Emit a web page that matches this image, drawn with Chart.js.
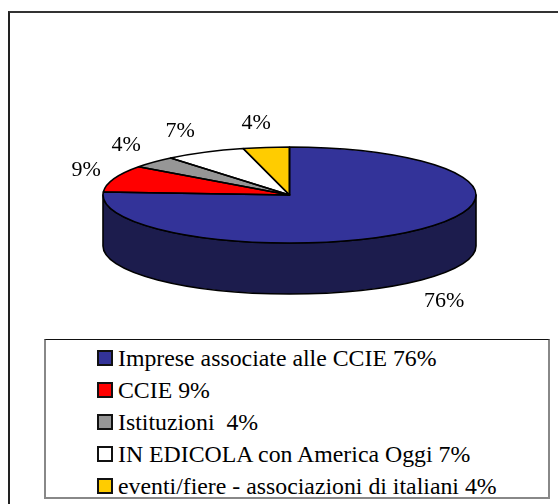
<!DOCTYPE html>
<html>
<head>
<meta charset="utf-8">
<script src="https://cdn.jsdelivr.net/npm/chart.js@4/dist/chart.umd.min.js"></script>
<style>
  html, body { margin: 0; padding: 0; background: #fff; }
  body { width: 558px; height: 504px; position: relative; overflow: hidden; }
  #frame { position: absolute; left: 8px; top: 11px; width: 600px; height: 600px;
           border-top: 2px solid #333; border-left: 2px solid #222; box-sizing: border-box; }
  #c { position: absolute; left: 0; top: 0; }
  #legend { position: absolute; left: 44px; top: 339px; width: 506px; height: 160px; box-sizing: border-box;
            border-top: 1px solid #111; border-left: 2px solid #888; border-right: 2px solid #888; border-bottom: 2px solid #888;
            font-family: "Liberation Serif", "Times New Roman", serif; font-size: 23.8px; color: #000;
            padding-top: 2px; padding-left: 51px; background: #fff; }
  .row { height: 32px; line-height: 32px; white-space: pre; display: flex; align-items: center; }
  .sw { width: 16px; height: 16px; box-sizing: border-box; border: 2px solid #111; margin-right: 5px; flex: none; }
</style>
</head>
<body>
<div id="frame"></div>
<canvas id="c" width="558" height="504"></canvas>
<div id="legend"></div>
<script>
// ---- data ----
const categories = [
  "Imprese associate alle CCIE 76%",
  "CCIE 9%",
  "Istituzioni  4%",
  "IN EDICOLA con America Oggi 7%",
  "eventi/fiere - associazioni di italiani 4%"
];
const shares = [76, 9, 4, 7, 4];
const sliceLabels = ["76%", "9%", "4%", "7%", "4%"];

// ---- style ----
const topColors  = ["#333399", "#FF0000", "#969696", "#FFFFFF", "#FFCC00"];
const sideColors = ["#1c1c4d", "#990000", "#5a5a5a", "#9a9a9a", "#997a00"];
const TILT = 0.2574;     // vertical squash of the pie top
const DEPTH = 51;        // thickness of the pie
const LABEL_GAP_X = 28, LABEL_RY = 72;
const FONT_STACK = '"Liberation Serif", "Times New Roman", serif';

const pie3d = {
  id: 'pie3d',
  beforeDatasetsDraw(chart) {
    const ctx = chart.ctx;
    const arcs = chart.getDatasetMeta(0).data;
    const cx = arcs[0].x, cy = arcs[0].y, rx = arcs[0].outerRadius, ry = rx * TILT;
    ctx.save();
    ctx.lineWidth = 1.6; ctx.strokeStyle = '#000'; ctx.lineJoin = 'round';
    arcs.forEach((arc, i) => {
      for (let k = -1; k <= 1; k++) {
        const s = Math.max(arc.startAngle + k * 2 * Math.PI, 0);
        const e = Math.min(arc.endAngle + k * 2 * Math.PI, Math.PI);
        if (e > s) {
          ctx.beginPath();
          ctx.ellipse(cx, cy, rx, ry, 0, s, e, false);
          ctx.ellipse(cx, cy + DEPTH, rx, ry, 0, e, s, true);
          ctx.closePath();
          ctx.fillStyle = sideColors[i];
          ctx.fill();
          ctx.stroke();
        }
      }
    });
    ctx.restore();
    ctx.save();
    ctx.translate(0, cy); ctx.scale(1, TILT); ctx.translate(0, -cy);
  },
  afterDatasetsDraw(chart) {
    const ctx = chart.ctx;
    ctx.restore();
    const arcs = chart.getDatasetMeta(0).data;
    const cx = arcs[0].x, cy = arcs[0].y, rx = arcs[0].outerRadius, ry = rx * TILT;
    ctx.save();
    ctx.lineWidth = 1.6; ctx.strokeStyle = '#000'; ctx.lineJoin = 'round';
    arcs.forEach(arc => {
      ctx.beginPath();
      ctx.moveTo(cx, cy);
      ctx.ellipse(cx, cy, rx, ry, 0, arc.startAngle, arc.endAngle, false);
      ctx.closePath();
      ctx.stroke();
    });
    ctx.font = '22px ' + FONT_STACK;
    ctx.fillStyle = '#000';
    ctx.textAlign = 'center';
    ctx.textBaseline = 'middle';
    arcs.forEach((arc, i) => {
      const m = (arc.startAngle + arc.endAngle) / 2;
      const sn = Math.sin(m), cs = Math.cos(m);
      const x = cx + rx * cs + LABEL_GAP_X * Math.tanh(3 * cs);
      const y = cy + LABEL_RY * sn + (sn > 0 ? DEPTH + 3 : 0);
      ctx.fillText(sliceLabels[i], x, y);
    });
    ctx.restore();
  }
};

new Chart(document.getElementById('c'), {
  type: 'pie',
  data: {
    labels: categories,
    datasets: [{
      data: shares,
      backgroundColor: topColors,
      borderWidth: 0,
      clip: false
    }]
  },
  options: {
    responsive: false,
    devicePixelRatio: 1,
    animation: false,
    events: [],
    layout: { padding: { left: 103, right: 82, top: 8.5, bottom: 122.5 } },
    plugins: { legend: { display: false }, tooltip: { enabled: false } }
  },
  plugins: [pie3d]
});

// HTML legend built from the data arrays
const lg = document.getElementById('legend');
categories.forEach((c, i) => {
  const row = document.createElement('div');
  row.className = 'row';
  const sw = document.createElement('span');
  sw.className = 'sw';
  sw.style.background = topColors[i];
  const tx = document.createElement('span');
  tx.textContent = c;
  row.appendChild(sw); row.appendChild(tx);
  lg.appendChild(row);
});
</script>
</body>
</html>
